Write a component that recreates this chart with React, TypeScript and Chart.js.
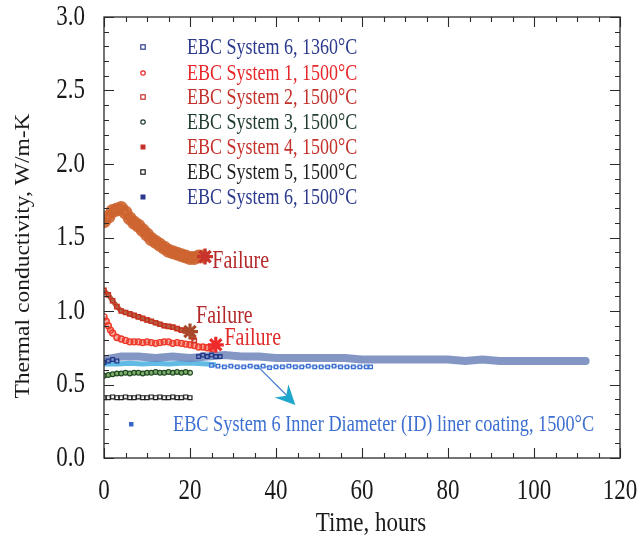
import React, { useEffect, useRef } from "react";
import { Chart, registerables } from "chart.js";

Chart.register(...registerables);

// ---------- DATA ----------
const xTickValues = [0, 20, 40, 60, 80, 100, 120];
const yTickValues = [0, 0.5, 1.0, 1.5, 2.0, 2.5, 3.0];

const legendLabels = [
  "EBC System 6, 1360°C",
  "EBC System 1, 1500°C",
  "EBC System 2, 1500°C",
  "EBC System 3, 1500°C",
  "EBC System 4, 1500°C",
  "EBC System 5, 1500°C",
  "EBC System 6, 1500°C",
];
const idLabel = "EBC System 6 Inner Diameter (ID) liner coating, 1500°C";

// EBC System 6, 1360°C
const s6aT = [0, 4, 8, 12, 16, 20, 24, 28, 32, 36, 40, 44, 48, 52, 56, 60, 64, 68, 72, 76, 80, 84, 88, 92, 96, 100, 104, 108, 112];
const s6aV = [0.67, 0.69, 0.69, 0.68, 0.69, 0.68, 0.69, 0.7, 0.69, 0.69, 0.68, 0.68, 0.68, 0.68, 0.68, 0.67, 0.67, 0.67, 0.67, 0.67, 0.67, 0.66, 0.67, 0.66, 0.66, 0.66, 0.66, 0.66, 0.66];

// EBC System 1, 1500°C
const s1T = [0, 0.5, 1, 1.5, 2, 3, 4, 5, 6, 7, 8, 9, 10, 11, 12, 13, 14, 15, 16, 17, 18, 19, 20, 21, 22, 23, 24, 25];
const s1V = [0.96, 0.93, 0.9, 0.87, 0.85, 0.82, 0.81, 0.8, 0.79, 0.79, 0.79, 0.785, 0.79, 0.785, 0.78, 0.785, 0.79, 0.79, 0.78, 0.785, 0.78, 0.775, 0.77, 0.765, 0.755, 0.755, 0.75, 0.745];

// EBC System 2, 1500°C
const s2T = [0, 1, 2, 3, 4, 5, 6, 7, 8, 9, 10, 11, 12, 13, 14, 15, 16, 17, 18, 19, 20, 21];
const s2V = [1.14, 1.11, 1.07, 1.03, 1.0, 0.99, 0.98, 0.97, 0.96, 0.95, 0.94, 0.93, 0.92, 0.91, 0.9, 0.895, 0.89, 0.88, 0.87, 0.865, 0.855, 0.8];

// EBC System 3, 1500°C
const s3T = [0, 1, 2, 3, 4, 5, 6, 7, 8, 9, 10, 11, 12, 13, 14, 15, 16, 17, 18, 19, 20];
const s3V = [0.56, 0.565, 0.57, 0.575, 0.575, 0.58, 0.575, 0.58, 0.58, 0.575, 0.58, 0.58, 0.585, 0.58, 0.58, 0.585, 0.58, 0.585, 0.58, 0.585, 0.58];

// EBC System 4, 1500°C
const s4T = [0, 1, 2, 3, 4, 5, 6, 7, 8, 9, 10, 11, 12, 13, 14, 15, 16, 17, 18, 19, 20, 21, 22, 23];
const s4V = [1.61, 1.64, 1.68, 1.69, 1.7, 1.67, 1.63, 1.6, 1.58, 1.55, 1.52, 1.49, 1.47, 1.45, 1.43, 1.41, 1.4, 1.39, 1.38, 1.37, 1.36, 1.36, 1.37, 1.37];

// EBC System 5, 1500°C
const s5T = [0, 1, 2, 3, 4, 5, 6, 7, 8, 9, 10, 11, 12, 13, 14, 15, 16, 17, 18, 19, 20];
const s5V = [0.41, 0.41, 0.415, 0.41, 0.41, 0.415, 0.41, 0.41, 0.415, 0.41, 0.41, 0.415, 0.41, 0.415, 0.41, 0.41, 0.415, 0.41, 0.41, 0.415, 0.41];

// EBC System 6, 1500°C
const s6bT = [0, 1, 2, 3, 22, 23, 24, 25, 26, 27];
const s6bV = [0.65, 0.66, 0.67, 0.66, 0.69, 0.7, 0.69, 0.7, 0.69, 0.69];

// EBC System 6 ID liner coating, 1500°C
const idLineT = [0, 3, 6, 9, 12, 15, 18, 21, 24, 26];
const idLineV = [0.64, 0.64, 0.645, 0.64, 0.645, 0.64, 0.645, 0.645, 0.64, 0.635];
const idPtsT = [25, 26.5, 28, 29.5, 31, 32.5, 34, 35.5, 37, 38.5, 40, 41.5, 43, 44.5, 46, 47.5, 49, 50.5, 52, 53.5, 55, 56.5, 58, 59.5, 61, 62];
const idPtsV = [0.63, 0.625, 0.62, 0.625, 0.62, 0.62, 0.625, 0.62, 0.625, 0.615, 0.62, 0.62, 0.625, 0.62, 0.62, 0.625, 0.62, 0.62, 0.62, 0.625, 0.62, 0.62, 0.62, 0.62, 0.62, 0.62];

// failure points (time, value) and their labels
const failT = [23.5, 20, 26];
const failV = [1.37, 0.86, 0.77];
const failLabelT = [25.2, 21.4, 28.0];
const failLabelV = [1.34, 0.965, 0.815];

// arrow (ID annotation) from -> to
const arrowT = [35.5, 44.5];
const arrowV = [0.63, 0.36];

// ---------- HELPERS ----------
const pts = (t: number[], v: number[]) => t.map((x, i) => ({ x, y: v[i] }));
const SERIF = "'Liberation Serif', 'DejaVu Serif', serif";
const SY = 1.3; // vertical stretch of lettering seen in the reference

const legendColors = ["#2b3a8c", "#e8262a", "#c2302a", "#1f3b2c", "#c4302a", "#1e1e1e", "#2b3a8c"];
const legendMarker = ["rect", "circle", "rect", "circle", "rectFill", "rect", "rectFill"];

function txt(
  ctx: CanvasRenderingContext2D,
  s: string,
  x: number,
  y: number,
  size: number,
  color: string,
  align: CanvasTextAlign,
  sy = SY
) {
  ctx.save();
  ctx.translate(x, y);
  ctx.scale(1, sy);
  ctx.font = `${size}px ${SERIF}`;
  ctx.fillStyle = color;
  ctx.textAlign = align;
  ctx.textBaseline = "middle";
  ctx.fillText(s, 0, 0);
  ctx.restore();
}

const decoPlugin = {
  id: "deco",
  afterDatasetsDraw(chart: any) {
    const ctx = chart.ctx as CanvasRenderingContext2D;
    const { left, right, top, bottom } = chart.chartArea;
    const xs = chart.scales.x;
    const ys = chart.scales.y;
    const X = (v: number) => xs.getPixelForValue(v);
    const Y = (v: number) => ys.getPixelForValue(v);
    ctx.save();

    // frame
    ctx.strokeStyle = "#2a2a2a";
    ctx.lineWidth = 1.3;
    ctx.strokeRect(left, top, right - left, bottom - top);

    // inward ticks
    ctx.lineWidth = 1.1;
    ctx.beginPath();
    for (let v = 0; v <= 120; v += 5) {
      const px = Math.round(X(v)) + 0.5;
      const len = v % 20 === 0 ? 10 : 5;
      ctx.moveTo(px, bottom);
      ctx.lineTo(px, bottom - len);
      ctx.moveTo(px, top);
      ctx.lineTo(px, top + len);
    }
    for (let i = 0; i <= 30; i++) {
      const py = Math.round(Y(i / 10)) + 0.5;
      const len = i % 5 === 0 ? 10 : 5;
      ctx.moveTo(left, py);
      ctx.lineTo(left + len, py);
      ctx.moveTo(right, py);
      ctx.lineTo(right - len, py);
    }
    ctx.stroke();

    // tick labels
    xTickValues.forEach((v) => txt(ctx, String(v), X(v), 491, 23, "#1a1a1a", "center", 1.25));
    yTickValues.forEach((v) => txt(ctx, v.toFixed(1), 85, Y(v), 23, "#1a1a1a", "right", 1.25));

    // legend
    const lx = 143;
    const tx = 187;
    const rowY = [47, 73, 97, 122, 147, 172, 197];
    legendLabels.forEach((lab, i) => {
      const y = rowY[i];
      const c = legendColors[i];
      ctx.strokeStyle = c;
      ctx.fillStyle = c;
      ctx.lineWidth = 1.2;
      const m = legendMarker[i];
      if (m === "circle") {
        ctx.beginPath();
        ctx.arc(lx, y, 2.2, 0, Math.PI * 2);
        ctx.stroke();
      } else if (m === "rectFill") {
        ctx.fillRect(lx - 2.5, y - 2.5, 5, 5);
      } else {
        ctx.strokeRect(lx - 2.2, y - 2.2, 4.4, 4.4);
      }
      txt(ctx, lab, tx, y + 1, 18, c, "left");
    });

    // failure labels
    const failColors = ["#b42a2a", "#b42a2a", "#e02a2a"];
    failLabelT.forEach((t, i) => {
      txt(ctx, "Failure", X(t), Y(failLabelV[i]), 20, failColors[i], "left");
    });

    // arrow
    const ax0 = X(arrowT[0]), ay0 = Y(arrowV[0]);
    const ax1 = X(arrowT[1]), ay1 = Y(arrowV[1]);
    ctx.strokeStyle = "#4a7fcf";
    ctx.lineWidth = 1.3;
    ctx.beginPath();
    ctx.moveTo(ax0, ay0);
    ctx.lineTo(ax1 - 6, ay1 - 7);
    ctx.stroke();
    const ang = Math.atan2(ay1 - ay0, ax1 - ax0);
    ctx.fillStyle = "#1fa6cc";
    ctx.beginPath();
    ctx.moveTo(ax1, ay1);
    ctx.lineTo(ax1 - 22 * Math.cos(ang - 0.45), ay1 - 22 * Math.sin(ang - 0.45));
    ctx.lineTo(ax1 - 13 * Math.cos(ang), ay1 - 13 * Math.sin(ang));
    ctx.lineTo(ax1 - 22 * Math.cos(ang + 0.45), ay1 - 22 * Math.sin(ang + 0.45));
    ctx.closePath();
    ctx.fill();

    // ID annotation
    ctx.fillStyle = "#3a66cc";
    ctx.fillRect(129, 422, 4.5, 4.5);
    txt(ctx, idLabel, 173, 425, 18.3, "#3d6fd0", "left");

    // axis titles
    txt(ctx, "Time, hours", 371, 524, 23, "#1a1a1a", "center", 1.2);
    ctx.save();
    ctx.translate(23, 256);
    ctx.rotate(-Math.PI / 2);
    ctx.scale(1.12, 1);
    ctx.font = `21px ${SERIF}`;
    ctx.fillStyle = "#1a1a1a";
    ctx.textAlign = "center";
    ctx.textBaseline = "middle";
    ctx.fillText("Thermal conductivity, W/m-K", 0, 0);
    ctx.restore();

    ctx.restore();
  },
};

export default function App() {
  const ref = useRef<HTMLCanvasElement | null>(null);

  useEffect(() => {
    if (!ref.current) return;
    const chart = new Chart(ref.current, {
      type: "scatter",
      data: {
        datasets: [
          {
            label: "Failure",
            data: pts(failT, failV),
            pointStyle: "star",
            pointRadius: 8,
            borderWidth: 3.2,
            pointBorderColor: ["#c8342c", "#a8482a", "#ee2a2a"],
            showLine: false,
          } as any,
          {
            label: legendLabels[4],
            data: pts(s4T, s4V),
            showLine: true,
            borderColor: "rgba(222,116,58,0.88)",
            borderWidth: 8,
            pointRadius: 3,
            pointBackgroundColor: "rgba(230,125,62,0.9)",
            pointBorderColor: "rgba(205,100,48,0.9)",
            borderJoinStyle: "round",
            borderCapStyle: "round",
          } as any,
          {
            label: legendLabels[2],
            data: pts(s2T, s2V),
            showLine: true,
            borderColor: "rgba(165,72,38,0.85)",
            borderWidth: 5,
            pointStyle: "rect",
            pointRadius: 3,
            pointBackgroundColor: "rgba(0,0,0,0)",
            pointBorderColor: "#c8301f",
            pointBorderWidth: 1.4,
          } as any,
          {
            label: legendLabels[1],
            data: pts(s1T, s1V),
            showLine: true,
            borderColor: "rgba(240,110,90,0.6)",
            borderWidth: 6,
            pointStyle: "circle",
            pointRadius: 3,
            pointBackgroundColor: "rgba(0,0,0,0)",
            pointBorderColor: "#ee3a2a",
            pointBorderWidth: 1.4,
          } as any,
          {
            label: legendLabels[6],
            data: pts(s6bT, s6bV),
            showLine: false,
            pointStyle: "rect",
            pointRadius: 2.6,
            pointBackgroundColor: "rgba(0,0,0,0)",
            pointBorderColor: "#22388a",
            pointBorderWidth: 1.3,
          } as any,
          {
            label: legendLabels[0],
            data: pts(s6aT, s6aV),
            showLine: true,
            borderColor: "rgba(98,122,180,0.78)",
            borderWidth: 8,
            pointRadius: 0,
            borderCapStyle: "round",
          } as any,
          {
            label: idLabel,
            data: pts(idPtsT, idPtsV),
            showLine: true,
            borderColor: "rgba(70,120,210,0.6)",
            borderWidth: 1.5,
            pointStyle: "rect",
            pointRadius: 2.5,
            pointBackgroundColor: "rgba(255,255,255,0.6)",
            pointBorderColor: "#3a6ed2",
            pointBorderWidth: 1.3,
          } as any,
          {
            label: idLabel + " (early)",
            data: pts(idLineT, idLineV),
            showLine: true,
            borderColor: "rgba(70,175,225,0.85)",
            borderWidth: 5,
            pointRadius: 0,
          } as any,
          {
            label: legendLabels[3],
            data: pts(s3T, s3V),
            showLine: true,
            borderColor: "rgba(50,110,60,0.85)",
            borderWidth: 3,
            pointStyle: "circle",
            pointRadius: 2.4,
            pointBackgroundColor: "rgba(160,200,120,0.6)",
            pointBorderColor: "#1e4a22",
            pointBorderWidth: 1.2,
          } as any,
          {
            label: legendLabels[5],
            data: pts(s5T, s5V),
            showLine: true,
            borderColor: "rgba(40,40,40,0.6)",
            borderWidth: 1,
            pointStyle: "rect",
            pointRadius: 2.8,
            pointBackgroundColor: "rgba(255,255,255,0.8)",
            pointBorderColor: "#1e1e1e",
            pointBorderWidth: 1.2,
          } as any,
        ],
      },
      options: {
        animation: false,
        responsive: false,
        layout: { padding: { top: 17, right: 18, left: 0, bottom: 0 } },
        plugins: { legend: { display: false }, tooltip: { enabled: false } },
        scales: {
          x: {
            type: "linear",
            min: 0,
            max: 120,
            afterFit: (s: any) => {
              s.height = 83;
            },
            afterBuildTicks: (s: any) => {
              s.ticks = xTickValues.map((v) => ({ value: v }));
            },
            grid: { display: false, drawTicks: false },
            border: { display: false },
            ticks: { display: false },
          },
          y: {
            type: "linear",
            min: 0,
            max: 3,
            afterFit: (s: any) => {
              s.width = 104;
            },
            afterBuildTicks: (s: any) => {
              s.ticks = yTickValues.map((v) => ({ value: v }));
            },
            grid: { display: false, drawTicks: false },
            border: { display: false },
            ticks: { display: false },
          },
        },
      } as any,
      plugins: [decoPlugin],
    });
    return () => chart.destroy();
  }, []);

  return (
    <div style={{ position: "fixed", left: 0, top: 0, width: 638, height: 541, background: "#fff" }}>
      <canvas ref={ref} width={638} height={541} />
    </div>
  );
}
